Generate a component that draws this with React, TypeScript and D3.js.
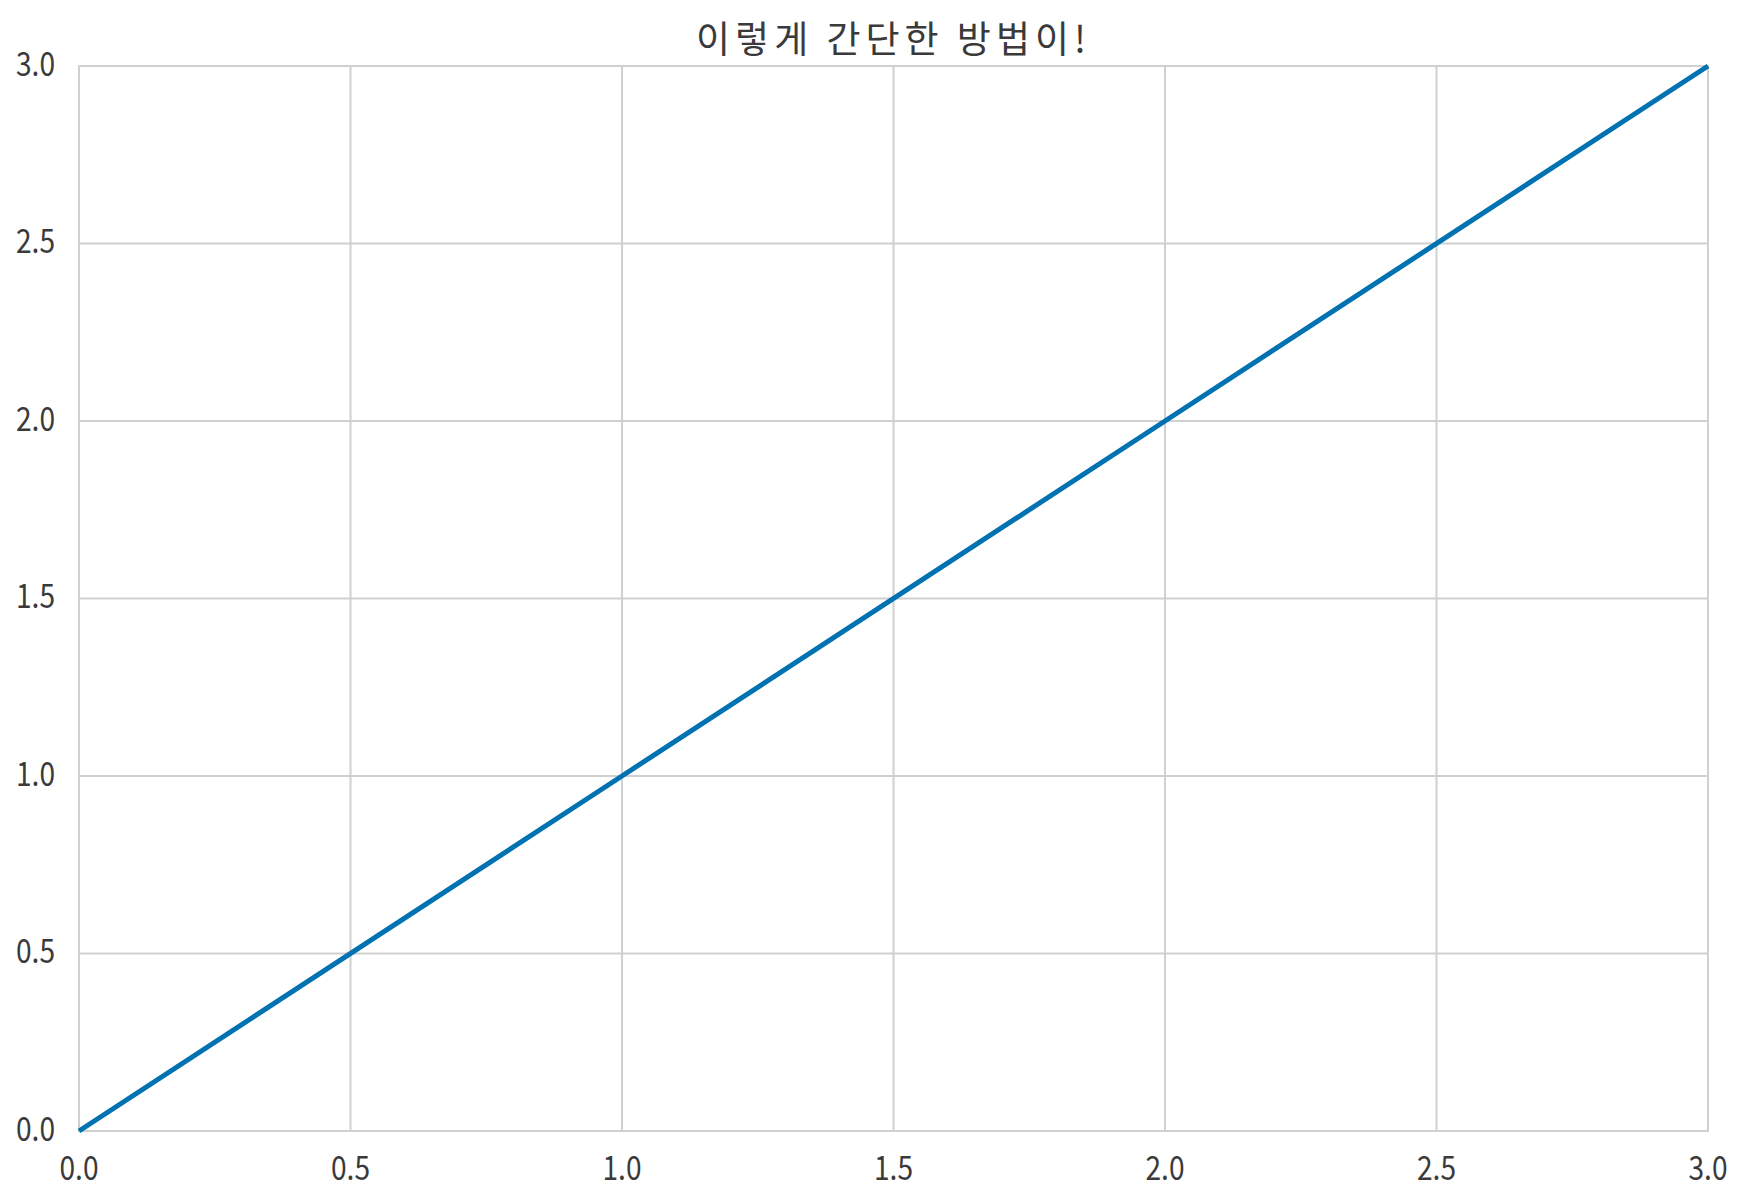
import React, { useEffect, useRef } from "react";
import * as d3 from "d3";

// data
const xValues = [0, 1, 2, 3];
const yValues = [0, 1, 2, 3];
const tickValues = [0, 0.5, 1, 1.5, 2, 2.5, 3];
const title = "이렇게 간단한 방법이!";

const width = 1738;
const height = 1200;
const margin = { top: 66, right: 30, bottom: 69, left: 79 };

const App: React.FC = () => {
  const svgRef = useRef<SVGSVGElement | null>(null);

  useEffect(() => {
    if (!svgRef.current) return;
    const svg = d3.select(svgRef.current);
    svg.selectAll("*").remove();

    const innerW = width - margin.left - margin.right;
    const innerH = height - margin.top - margin.bottom;

    const x = d3.scaleLinear().domain([0, 3]).range([0, innerW]);
    const y = d3.scaleLinear().domain([0, 3]).range([innerH, 0]);

    const g = svg.append("g").attr("transform", `translate(${margin.left},${margin.top})`);

    // grid lines
    g.selectAll(".vgrid")
      .data(tickValues)
      .enter()
      .append("line")
      .attr("x1", (d) => x(d))
      .attr("x2", (d) => x(d))
      .attr("y1", 0)
      .attr("y2", innerH)
      .attr("stroke", "#d0d0d0")
      .attr("stroke-width", 2);

    g.selectAll(".hgrid")
      .data(tickValues)
      .enter()
      .append("line")
      .attr("x1", 0)
      .attr("x2", innerW)
      .attr("y1", (d) => y(d))
      .attr("y2", (d) => y(d))
      .attr("stroke", "#d0d0d0")
      .attr("stroke-width", 2);

    // frame
    g.append("rect")
      .attr("x", 0)
      .attr("y", 0)
      .attr("width", innerW)
      .attr("height", innerH)
      .attr("fill", "none")
      .attr("stroke", "#d0d0d0")
      .attr("stroke-width", 2);

    const tickFont = "'Noto Sans CJK KR', sans-serif";

    // x tick labels (squeezed to match the narrow digits)
    g.selectAll(".xlab")
      .data(tickValues)
      .enter()
      .append("text")
      .attr("x", (d) => x(d))
      .attr("y", innerH + 49)
      .attr("text-anchor", "middle")
      .attr("font-family", tickFont)
      .attr("font-size", 33)
      .attr("fill", "#3a3a3a")
      .attr("textLength", 39)
      .attr("lengthAdjust", "spacingAndGlyphs")
      .text((d) => d3.format(".1f")(d));

    // y tick labels
    g.selectAll(".ylab")
      .data(tickValues)
      .enter()
      .append("text")
      .attr("x", -24 - 39)
      .attr("y", (d) => y(d))
      .attr("dy", "0.3em")
      .attr("text-anchor", "start")
      .attr("font-family", tickFont)
      .attr("font-size", 33)
      .attr("fill", "#3a3a3a")
      .attr("textLength", 39)
      .attr("lengthAdjust", "spacingAndGlyphs")
      .text((d) => d3.format(".1f")(d));

    // data line
    const line = d3
      .line<number>()
      .x((d, i) => x(xValues[i]))
      .y((d) => y(d));

    g.append("path")
      .datum(yValues)
      .attr("d", line)
      .attr("fill", "none")
      .attr("stroke", "#0072b2")
      .attr("stroke-width", 5);

    // title
    svg
      .append("text")
      .attr("x", margin.left + innerW / 2)
      .attr("y", 53)
      .attr("text-anchor", "middle")
      .attr("font-family", "'Noto Sans CJK KR', sans-serif")
      .attr("font-size", 37)
      .attr("letter-spacing", 5)
      .attr("word-spacing", 0)
      .attr("fill", "#3a3a3a")
      .text(title);
  }, []);

  return (
    <svg
      ref={svgRef}
      width={width}
      height={height}
      style={{ display: "block", position: "absolute", left: 0, top: 0, background: "#fff" }}
    />
  );
};

export default App;
